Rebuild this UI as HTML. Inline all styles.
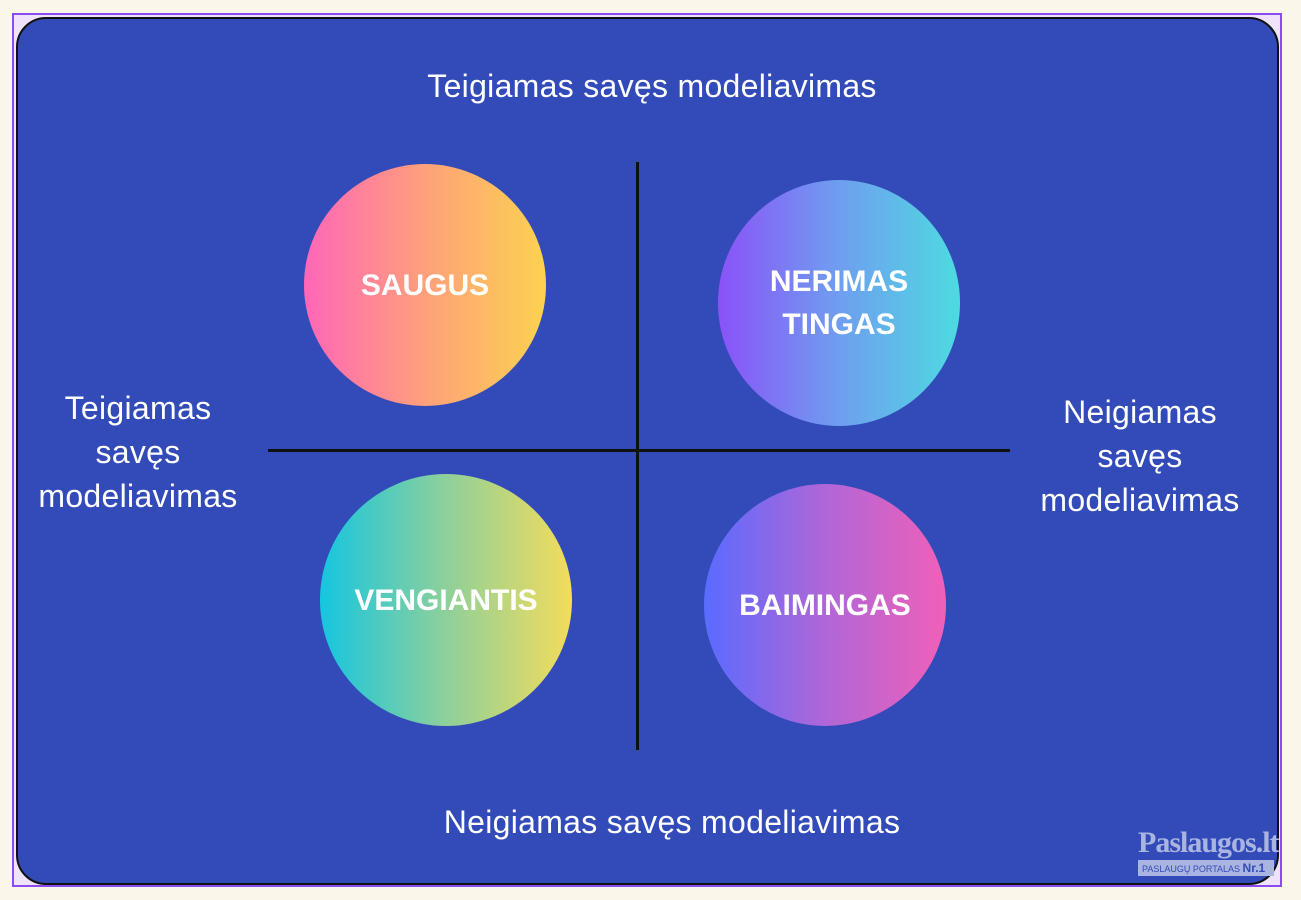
<!DOCTYPE html>
<html><head><meta charset="utf-8"><style>
html,body{margin:0;padding:0;}
body{width:1301px;height:900px;background:#fbf6ea;position:relative;overflow:hidden;font-family:"Liberation Sans",sans-serif;}
.frame{position:absolute;left:12px;top:13px;width:1270px;height:874px;border:2px solid #8a4cf0;box-sizing:border-box;background:#efe3fb;}
.card{position:absolute;left:16px;top:17px;width:1263px;height:868px;box-sizing:border-box;background:#324bb8;border:2px solid #111;border-radius:30px;}
.t{position:absolute;color:#fff;font-size:32px;letter-spacing:0.3px;text-align:center;line-height:44px;white-space:nowrap;}
.c{position:absolute;border-radius:50%;color:#fff;font-weight:bold;font-size:30px;display:flex;align-items:center;justify-content:center;text-align:center;line-height:43px;}
.l{position:absolute;background:#111;}
</style></head><body>
<div class="frame"></div>
<div class="card"></div>
<div class="t" style="left:352px;top:64px;width:600px;">Teigiamas savęs modeliavimas</div>
<div class="t" style="left:372px;top:800px;width:600px;">Neigiamas savęs modeliavimas</div>
<div class="t" style="left:18px;top:386px;width:240px;">Teigiamas<br>savęs<br>modeliavimas</div>
<div class="t" style="left:1020px;top:390px;width:240px;">Neigiamas<br>savęs<br>modeliavimas</div>
<div class="l" style="left:636px;top:162px;width:3px;height:588px;"></div>
<div class="l" style="left:268px;top:449px;width:742px;height:3px;"></div>
<div class="c" style="left:304px;top:164px;width:242px;height:242px;background:linear-gradient(90deg,#ff66b8,#ffa07a 50%,#fcd24f);">SAUGUS</div>
<div class="c" style="left:718px;top:180px;width:242px;height:246px;background:linear-gradient(90deg,#8a52f8,#6f9ef0 50%,#4ddbe0);">NERIMAS<br>TINGAS</div>
<div class="c" style="left:320px;top:474px;width:252px;height:252px;background:linear-gradient(90deg,#15c6e0,#8ed09a 50%,#f4dc5a);">VENGIANTIS</div>
<div class="c" style="left:704px;top:484px;width:242px;height:242px;background:linear-gradient(90deg,#5a6bff,#b066d8 50%,#f060b8);">BAIMINGAS</div>
<div style="position:absolute;left:1138px;top:826px;color:#aab4e0;font-family:'Liberation Serif',serif;font-size:30px;font-weight:bold;letter-spacing:-1px;white-space:nowrap;">Paslaugos.lt</div>
<div style="position:absolute;left:1138px;top:860px;width:136px;height:16px;background:#aab4e0;color:#324bb8;font-size:9px;line-height:16px;padding-left:4px;box-sizing:border-box;white-space:nowrap;overflow:hidden;">PASLAUGŲ PORTALAS <b style="font-size:12px">Nr.1</b></div>
</body></html>
